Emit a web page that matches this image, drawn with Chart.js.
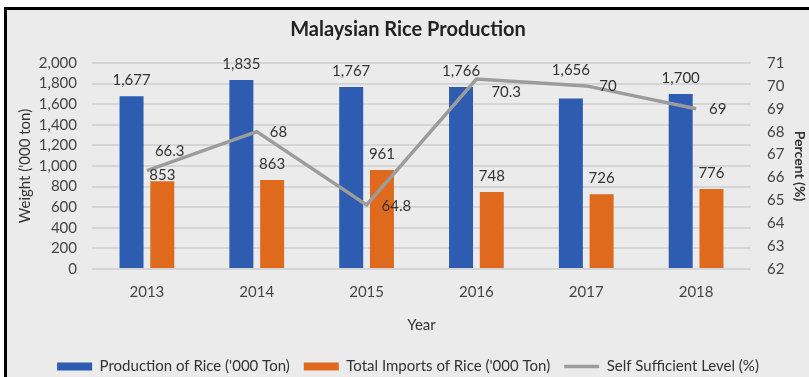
<!DOCTYPE html>
<html>
<head>
<meta charset="utf-8">
<script src="https://cdn.jsdelivr.net/npm/chart.js@4.4.1/dist/chart.umd.min.js"></script>
<style>
  html, body { margin: 0; padding: 0; background: #fff; }
  #frame {
    position: absolute; left: 4px; top: 7px;
    width: 802px; height: 367px;
    border-left: 3px solid #000; border-top: 3px solid #000;
    background: #ebebeb;
  }
  canvas { display: block; }
</style>
</head>
<body>
<div id="frame"><canvas id="riceChart" width="802" height="367"></canvas></div>
<script>
const years = ['2013', '2014', '2015', '2016', '2017', '2018'];
const production = [1677, 1835, 1767, 1766, 1656, 1700];
const imports = [853, 863, 961, 748, 726, 776];
const selfSufficiency = [66.3, 68, 64.8, 70.3, 70, 69];

const weightTicks = [0, 200, 400, 600, 800, 1000, 1200, 1400, 1600, 1800, 2000];
const percentTicks = [62, 63, 64, 65, 66, 67, 68, 69, 70, 71];

// small shifts for labels that would otherwise sit on the line
const labelNudge = {
  '0:4': [0, -12],
  '1:0': [0, 10],
  '2:0': [-5, -19],
  '2:2': [2, 1],
  '2:3': [2, 13]
};

const valueLabels = {
  id: 'valueLabels',
  afterDatasetsDraw(chart) {
    const ctx = chart.ctx;
    ctx.save();
    ctx.font = '15px Lato';
    ctx.fillStyle = '#333';
    ctx.textBaseline = 'middle';
    chart.data.datasets.forEach((ds, di) => {
      const meta = chart.getDatasetMeta(di);
      meta.data.forEach((el, i) => {
        const nudge = labelNudge[di + ':' + i] || [0, 0];
        if (ds.type === 'line') {
          ctx.textAlign = 'left';
          ctx.fillText(String(ds.data[i]), el.x + 13 + nudge[0], el.y + nudge[1]);
        } else {
          ctx.textAlign = 'center';
          ctx.fillText(ds.data[i].toLocaleString('en-US'), el.x + nudge[0], el.y - 16 + nudge[1]);
        }
      });
    });
    ctx.restore();
  }
};

Chart.defaults.font.family = 'Lato';
Chart.defaults.color = '#444';

const gridColor = '#d5d5d5';

new Chart(document.getElementById('riceChart'), {
  data: {
    labels: years,
    datasets: [
      {
        type: 'bar',
        label: "Production of Rice ('000 Ton)",
        data: production,
        backgroundColor: '#2e5cb1',
        yAxisID: 'y',
        order: 1,
        categoryPercentage: 0.56,
        barPercentage: 0.78
      },
      {
        type: 'bar',
        label: "Total Imports of Rice ('000 Ton)",
        data: imports,
        backgroundColor: '#df6a1e',
        yAxisID: 'y',
        order: 1,
        categoryPercentage: 0.56,
        barPercentage: 0.78
      },
      {
        type: 'line',
        label: 'Self Sufficient Level (%)',
        data: selfSufficiency,
        borderColor: '#9c9c9c',
        borderWidth: 3.5,
        pointRadius: 0,
        tension: 0,
        yAxisID: 'y1',
        order: 0
      }
    ]
  },
  options: {
    responsive: false,
    animation: false,
    layout: { padding: 0 },
    scales: {
      x: {
        grid: { display: false, drawTicks: false },
        border: { display: false },
        ticks: { padding: 14, font: { size: 15 }, color: '#444' },
        title: { display: true, text: 'Year', font: { size: 15 }, color: '#333', padding: { top: 0, bottom: 11 } },
        afterFit(s) { s.height = 76; }
      },
      y: {
        position: 'left',
        min: weightTicks[0],
        max: weightTicks[weightTicks.length - 1],
        afterBuildTicks(s) { s.ticks = weightTicks.map(v => ({ value: v })); },
        grid: { color: gridColor, lineWidth: 2, drawTicks: false },
        border: { display: false },
        ticks: {
          autoSkip: false,
          padding: 15,
          font: { size: 15 },
          color: '#444',
          callback: v => v.toLocaleString('en-US')
        },
        title: { display: true, text: "Weight ('000 ton)", font: { size: 15 }, color: '#333', padding: { top: 9, bottom: 0 } },
        afterFit(s) { s.width = 85; }
      },
      y1: {
        position: 'right',
        min: percentTicks[0],
        max: percentTicks[percentTicks.length - 1],
        afterBuildTicks(s) { s.ticks = percentTicks.map(v => ({ value: v })); },
        grid: { display: false, drawTicks: false },
        border: { display: false },
        ticks: { autoSkip: false, padding: 16, font: { size: 15 }, color: '#444' },
        title: { display: true, text: 'Percent (%)', font: { size: 14, weight: 'bold' }, color: '#333', padding: { top: 1, bottom: 0 } },
        afterFit(s) { s.width = 58; }
      }
    },
    plugins: {
      title: {
        display: true,
        text: 'Malaysian Rice Production',
        font: { size: 20, weight: 'bold' },
        color: '#222',
        padding: { top: 8, bottom: 21 }
      },
      legend: {
        position: 'bottom',
        maxHeight: 32,
        labels: {
          usePointStyle: true,
          pointStyleWidth: 35,
          boxHeight: 8,
          padding: 14,
          font: { size: 15 },
          color: '#333',
          generateLabels(chart) {
            return Chart.defaults.plugins.legend.labels.generateLabels(chart)
              .map(item => {
                item.pointStyle = chart.data.datasets[item.datasetIndex].type === 'line' ? 'line' : 'rect';
                return item;
              })
              .sort((a, b) => a.datasetIndex - b.datasetIndex);
          }
        }
      },
      tooltip: { enabled: false }
    }
  },
  plugins: [valueLabels]
});
</script>
</body>
</html>
